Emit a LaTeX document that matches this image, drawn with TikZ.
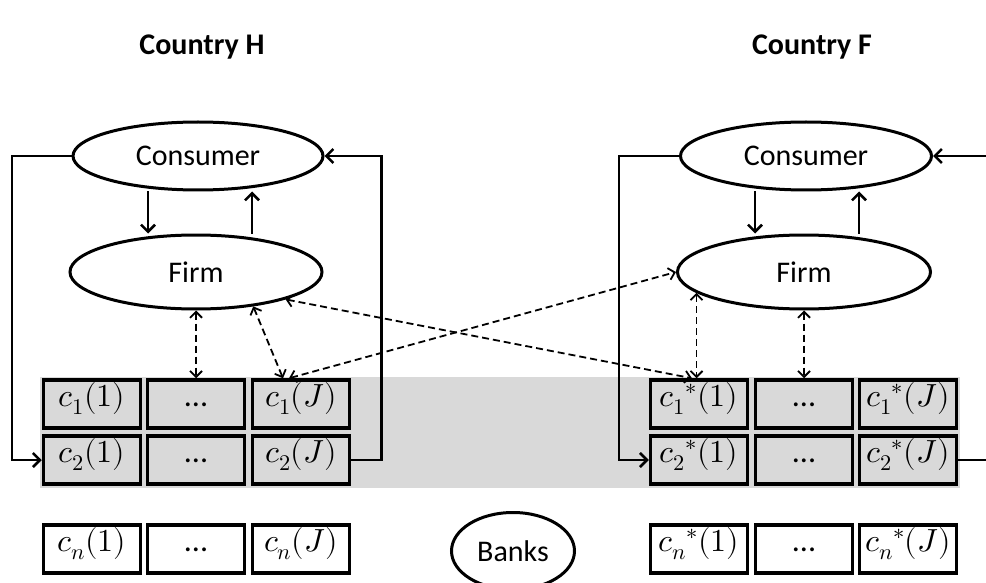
\documentclass[tikz,border=0pt]{standalone}
\usepackage{fontspec}
\usepackage{unicode-math}
\setmainfont{Carlito}
\setmathfont{Latin Modern Math}
\usetikzlibrary{shapes.geometric,arrows.meta}

\tikzset{
  oval/.style={ellipse,draw,line width=3pt,inner sep=0pt},
  cell/.style={draw,line width=3.5pt,minimum width=97pt,minimum height=48pt,inner sep=0pt,
    font=\fontsize{32}{38}\selectfont,text height=0.75em,text depth=0.25em},
  shaded/.style={cell,fill=black!15},
  flow/.style={line width=2.5pt,-{Straight Barb[length=7pt,width=14pt]}},
  link/.style={line width=1.8pt,dash pattern=on 7pt off 4pt,
    {Straight Barb[length=6pt,width=12pt]}-{Straight Barb[length=6pt,width=12pt]}},
}

\begin{document}
\begin{tikzpicture}[x=1pt,y=-1pt,font=\fontsize{30}{36}\selectfont]
  \useasboundingbox (0,0) rectangle (986,583);
  \node[font=\fontsize{30}{36}\selectfont\bfseries] (titleH) at (202,47) {Country H};
  \node[font=\fontsize{30}{36}\selectfont\bfseries] (titleF) at (812,47) {Country F};

  % band behind the first two rows
  \fill[black!15] (40,377) rectangle (960,488);

  \node[oval,minimum width=250pt,minimum height=68pt] (consH) at (198,156) {Consumer};
  \node[oval,minimum width=252pt,minimum height=74pt] (firmH) at (196,272) {Firm};
  \node[oval,minimum width=251pt,minimum height=68pt] (consF) at (806,156) {Consumer};
  \node[oval,minimum width=253pt,minimum height=74pt] (firmF) at (804,272) {Firm};
  \node[oval,minimum width=123pt,minimum height=77pt] (banks) at (513,551) {Banks};

  % country H
  \node[shaded] (cH11) at (92,404) {$c_1(1)$};
  \node[shaded] (cH1d) at (196,404) {...};
  \node[shaded] (cH1J) at (301,404) {$c_1(J)$};
  \node[shaded] (cH21) at (92,460) {$c_2(1)$};
  \node[shaded] (cH2d) at (196,460) {...};
  \node[shaded] (cH2J) at (301,460) {$c_2(J)$};
  \node[cell] (cHn1) at (92,549) {$c_n(1)$};
  \node[cell] (cHnd) at (196,549) {...};
  \node[cell] (cHnJ) at (301,549) {$c_n(J)$};

  % country F
  \node[shaded] (cF11) at (699,404) {$c_1{}^*(1)$};
  \node[shaded] (cF1d) at (804,404) {...};
  \node[shaded] (cF1J) at (908,404) {$c_1{}^*(J)$};
  \node[shaded] (cF21) at (699,460) {$c_2{}^*(1)$};
  \node[shaded] (cF2d) at (804,460) {...};
  \node[shaded] (cF2J) at (908,460) {$c_2{}^*(J)$};
  \node[cell] (cFn1) at (699,549) {$c_n{}^*(1)$};
  \node[cell] (cFnd) at (804,549) {...};
  \node[cell] (cFnJ) at (908,549) {$c_n{}^*(J)$};

  \draw[flow] ([xshift=-50pt]consH.south) -- ([xshift=-48pt]firmH.north);
  \draw[flow] ([xshift=56pt]firmH.north) -- ([xshift=54pt]consH.south);
  \draw[flow] ([xshift=-51pt]consF.south) -- ([xshift=-49pt]firmF.north);
  \draw[flow] ([xshift=55pt]firmF.north) -- ([xshift=53pt]consF.south);

  \draw[flow] (consH.west) -| ([xshift=-30pt]cH21.west) -- (cH21.west);
  \draw[flow] (cH2J.east) -- ++(30pt,0) |- (consH.east);
  \draw[flow] (consF.west) -| ([xshift=-30pt]cF21.west) -- (cF21.west);
  \coordinate (inF) at (990,156);
  \draw[flow] (inF) -- (consF.east);
  \draw[line width=2.5pt] (cF2J.east) -- ++(40pt,0);

  \draw[link] (firmH.south) -- (cH1d.north);
  \draw[link] (firmH.-31) -- ([xshift=-18pt]cH1J.north);
  \draw[link] (firmH.-17) -- ([xshift=-7pt]cF11.north);
  \draw[link] ([xshift=-12pt]cH1J.north) -- (firmF.west);
  \draw[link] (firmF.191) -- (firmF.191 |- cF11.north);
  \draw[link] (firmF.south) -- (cF1d.north);
\end{tikzpicture}
\end{document}
